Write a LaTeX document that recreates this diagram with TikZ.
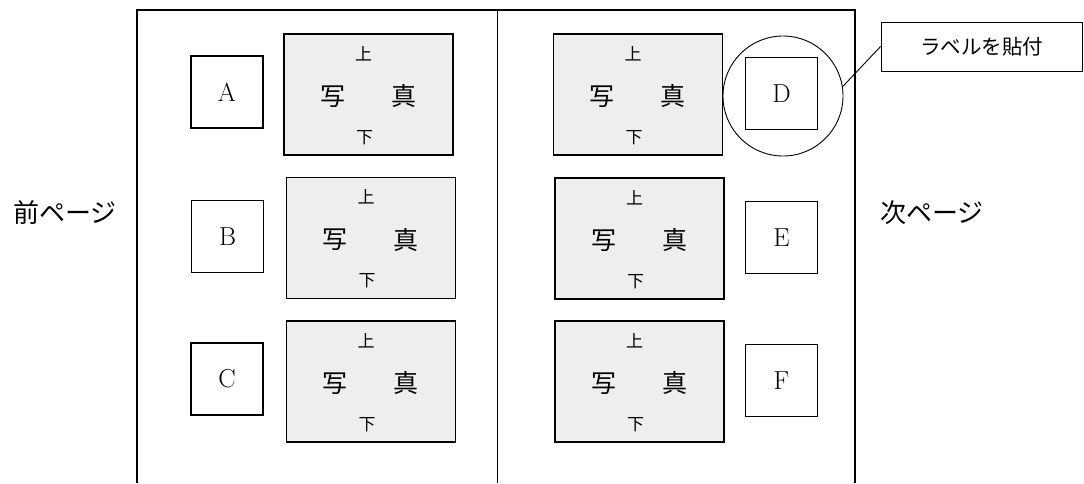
\documentclass[tikz,border=0pt]{standalone}
\usepackage{fontspec}
\newfontfamily\jp{Noto Sans CJK JP}
\tikzset{
  frameline/.style={line width=1.4pt,black},
  photobox/.style={draw=black,line width=1.8pt,fill=gray!13,minimum width=169pt,minimum height=121pt,inner sep=0pt},
  letterbox/.style={draw=black,line width=1.4pt,fill=white,minimum width=72pt,minimum height=72pt,inner sep=0pt,font=\fontsize{26}{26}\selectfont},
  bigchar/.style={inner sep=0pt,font=\jp\fontsize{25}{25}\selectfont},
  smallchar/.style={inner sep=0pt,font=\jp\fontsize{17}{17}\selectfont},
  pagetext/.style={inner sep=0pt,font=\jp\fontsize{26}{26}\selectfont},
  labelbox/.style={draw=black,line width=0.9pt,fill=white,minimum width=201pt,minimum height=49pt,inner sep=0pt,font=\jp\fontsize{20.5}{20.5}\selectfont},
  ringnode/.style={draw=black,line width=0.9pt,circle,minimum size=120pt,inner sep=0pt}
}
\newcommand{\photobox}[3]{%
  \node[photobox] (#1) at (#2,#3) {};
  \node[smallchar] (#1u) at ([xshift=-5pt,yshift=41pt]#1.center) {上};
  \node[bigchar] (#1l) at ([xshift=-36pt,yshift=-2pt]#1.center) {写};
  \node[bigchar] (#1r) at ([xshift=35pt,yshift=-2pt]#1.center) {真};
  \node[smallchar] (#1d) at ([xshift=-4pt,yshift=-43pt]#1.center) {下};
}
\begin{document}
\begin{tikzpicture}[x=1pt,y=-1pt]
\useasboundingbox (0,0) rectangle (1084,483);
% frame
\coordinate (fbl) at (137,483);
\coordinate (ftl) at (137,10);
\coordinate (ftr) at (855,10);
\coordinate (fbr) at (855,483);
\coordinate (mt) at (497,10);
\coordinate (mb) at (497,483);
\draw[frameline] (fbl) -- (ftl) -- (ftr) -- (fbr);
\draw[line width=1pt] (mt) -- (mb);
% photo boxes
\photobox{p1}{368.5}{94.5}
\photobox{p2}{371}{238}
\photobox{p3}{371}{381.5}
\photobox{p4}{638}{94.5}
\photobox{p5}{639.5}{238.5}
\photobox{p6}{639.5}{381.5}
% letter boxes
\node[letterbox] (A) at (227,92) {A};
\node[letterbox] (B) at (227.5,236.5) {B};
\node[letterbox] (C) at (227,379) {C};
\node[letterbox] (D) at (781.5,93.5) {D};
\node[letterbox] (E) at (781.5,237.5) {E};
\node[letterbox] (F) at (781.5,380.5) {F};
% circle and label
\node[ringnode] (ring) at (783,96) {};
\node[labelbox] (lbl) at (981.5,46.5) {ラベルを貼付};
\draw[line width=0.9pt] (lbl.west) -- (ring.9);
% page texts
\node[pagetext] (prev) at (65,213) {前ページ};
\node[pagetext] (next) at (932,213) {次ページ};
\end{tikzpicture}
\end{document}
